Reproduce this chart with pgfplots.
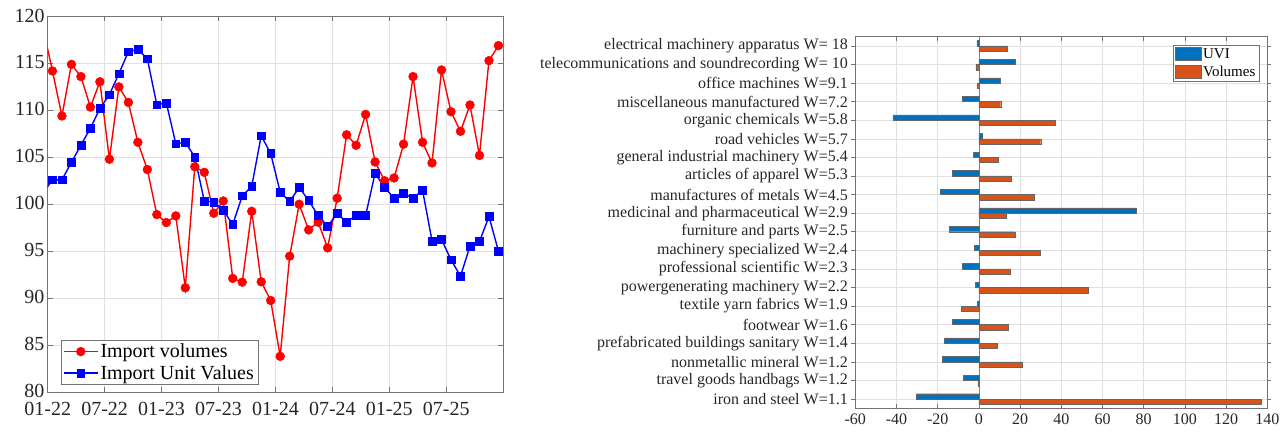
\documentclass[border=0pt]{standalone}
\usepackage{pgfplots}
\pgfplotsset{compat=1.18}
\usepackage{fontspec}
\setmainfont{Liberation Serif}
\definecolor{uvi}{rgb}{0,0.447,0.741}
\definecolor{vol}{rgb}{0.85,0.325,0.098}
\definecolor{axgray}{rgb}{0.15,0.15,0.15}
\begin{document}
\begin{tikzpicture}[x=1pt,y=1pt]
\useasboundingbox (0,0) rectangle (1284,433);
% ---------------- left chart ----------------
\begin{axis}[
  at={(47.7pt,41pt)}, anchor=south west,
  scale only axis, width=455.5pt, height=375.5pt,
  xmin=0, xmax=48, ymin=80, ymax=120,
  xtick={0,6,...,42},
  xticklabels={01-22,07-22,01-23,07-23,01-24,07-24,01-25,07-25},
  ytick={80,85,...,120},
  grid=major, grid style={color=black!12, line width=0.6pt},
  axis line style={color=black!55, line width=0.6pt},
  tick style={color=black!55, line width=0.6pt},
  tick align=inside, major tick length=5pt,
  ticklabel style={font=\fontsize{20}{22}\selectfont, text=axgray},
  xticklabel style={yshift=-9pt, inner sep=1pt},
  yticklabel style={yshift=1pt, inner sep=1pt, xshift=-2pt},
  /pgf/number format/assume math mode=true,
  legend style={at={(0.029,0.019)}, anchor=south west, draw=black!55, fill=white,
    font=\fontsize{20}{23}\selectfont, text=black, inner sep=2pt, row sep=2pt},
  legend cell align=left,
  legend image code/.code={\draw[mark repeat=2,mark phase=2] plot coordinates {(0pt,0pt)(17pt,0pt)(34pt,0pt)};},
]
\addplot[red, line width=1.4pt, mark=*, mark size=4.4pt, mark options={fill=red, draw=red, line width=0.5pt}] coordinates {
(0.5,114.2)(1.5,109.4)(2.5,114.9)(3.5,113.6)(4.5,110.35)(5.5,113.05)(6.5,104.8)(7.5,112.5)
(8.5,110.85)(9.5,106.6)(10.5,103.7)(11.5,98.9)(12.5,98.05)(13.5,98.76)(14.5,91.1)(15.5,104.0)
(16.5,103.4)(17.5,99.04)(18.5,100.35)(19.5,92.1)(20.5,91.7)(21.5,99.25)(22.5,91.74)(23.5,89.75)
(24.5,83.8)(25.5,94.47)(26.5,100.0)(27.5,97.27)(28.5,98.09)(29.5,95.35)(30.5,100.64)(31.5,107.4)
(32.5,106.28)(33.5,109.57)(34.5,104.5)(35.5,102.5)(36.5,102.8)(37.5,106.4)(38.5,113.6)(39.5,106.6)
(40.5,104.4)(41.5,114.3)(42.5,109.86)(43.5,107.77)(44.5,110.57)(45.5,105.2)(46.5,115.3)(47.5,116.9)};
\addlegendentry{Import volumes}
\addplot[blue, line width=1.4pt, mark=square*, mark size=3.9pt, mark options={fill=blue, draw=blue, line width=0.5pt}] coordinates {
(0.5,102.6)(1.5,102.6)(2.5,104.47)(3.5,106.3)(4.5,108.1)(5.5,110.2)(6.5,111.67)(7.5,113.9)
(8.5,116.24)(9.5,116.5)(10.5,115.5)(11.5,110.6)(12.5,110.8)(13.5,106.45)(14.5,106.6)(15.5,105.04)
(16.5,100.35)(17.5,100.25)(18.5,99.36)(19.5,97.84)(20.5,100.9)(21.5,101.9)(22.5,107.3)(23.5,105.4)
(24.5,101.28)(25.5,100.28)(26.5,101.8)(27.5,100.39)(28.5,98.8)(29.5,97.66)(30.5,99.0)(31.5,98.12)
(32.5,98.8)(33.5,98.8)(34.5,103.3)(35.5,101.77)(36.5,100.67)(37.5,101.13)(38.5,100.67)(39.5,101.5)
(40.5,96.1)(41.5,96.24)(42.5,94.08)(43.5,92.34)(44.5,95.53)(45.5,96.03)(46.5,98.69)(47.5,95.0)};
\addlegendentry{Import Unit Values}
\addplot[red, line width=1.4pt, no marks, forget plot] coordinates {(-0.5,118.8)(0.5,114.2)};
\addplot[blue, line width=1.4pt, no marks, forget plot] coordinates {(-0.5,101.2)(0.5,102.6)};
\end{axis}
% ---------------- right chart ----------------
\begin{axis}[
  at={(855.3pt,24.7pt)}, anchor=south west,
  scale only axis, width=412pt, height=371.7pt,
  xmin=-60, xmax=140, ymin=0.5, ymax=20.5,
  xtick={-60,-40,...,140},
  ytick={1,...,20},
  yticklabels={iron and steel W=1.1, travel goods handbags W=1.2, nonmetallic mineral W=1.2,
    prefabricated buildings sanitary W=1.4, footwear W=1.6, textile yarn fabrics W=1.9,
    powergenerating machinery W=2.2, professional scientific W=2.3, machinery specialized W=2.4,
    furniture and parts W=2.5, medicinal and pharmaceutical W=2.9, manufactures of metals W=4.5,
    articles of apparel W=5.3, general industrial machinery W=5.4, road vehicles W=5.7,
    organic chemicals W=5.8, miscellaneous manufactured W=7.2, office machines W=9.1,
    telecommunications and soundrecording W= 10, electrical machinery apparatus W= 18},
  grid=major, grid style={color=black!12, line width=0.6pt},
  axis line style={color=black!55, line width=0.6pt},
  tick style={color=black!55, line width=0.6pt},
  tick align=inside, major tick length=4pt,
  ticklabel style={font=\fontsize{16}{18}\selectfont, text=axgray},
  xticklabel style={yshift=-2pt},
  /pgf/number format/assume math mode=true,
  extra x ticks={0}, extra x tick labels={},
  extra x tick style={grid style={color=black!50, line width=0.8pt}, major tick length=0pt},
  xbar, bar width=5.3pt,
  legend style={at={(0.98,0.978)}, anchor=north east, draw=black!55, fill=white,
    font=\fontsize{15}{17}\selectfont, text=black, inner sep=1.5pt, row sep=2pt},
  legend cell align=left,
  legend image code/.code={\draw[#1] (0pt,-6.5pt) rectangle (26pt,6.5pt);},
]
\addplot[fill=uvi, draw=black!60, line width=0.4pt, bar shift=2.65pt] coordinates {
(-30.4,1)(-7.4,2)(-17.8,3)(-16.8,4)(-12.8,5)(-0.6,6)(-1.6,7)(-8.2,8)(-2.3,9)(-14.4,10)
(76.5,11)(-18.7,12)(-12.9,13)(-2.6,14)(1.6,15)(-41.8,16)(-8.2,17)(10.5,18)(17.4,19)(-1.0,20)};
\addlegendentry{UVI}
\addplot[fill=vol, draw=black!60, line width=0.4pt, bar shift=-2.65pt] coordinates {
(137.1,1)(-0.5,2)(21.0,3)(8.7,4)(14.2,5)(-8.4,6)(52.9,7)(15.0,8)(29.7,9)(17.4,10)
(13.2,11)(26.8,12)(15.5,13)(9.2,14)(30.0,15)(37.1,16)(10.6,17)(-0.8,18)(-1.5,19)(13.9,20)};
\addlegendentry{Volumes}
\end{axis}
\end{tikzpicture}
\end{document}
